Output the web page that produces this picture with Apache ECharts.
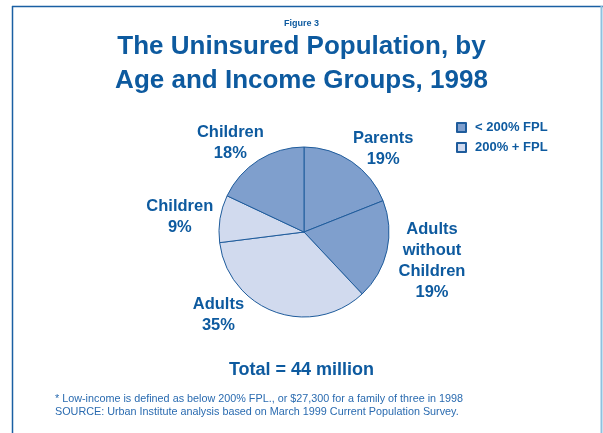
<!DOCTYPE html>
<html>
<head>
<meta charset="utf-8">
<script src="https://cdn.jsdelivr.net/npm/echarts@6/dist/echarts.min.js"></script>
<style>
html,body{margin:0;padding:0;background:#fff;}
#c{width:603px;height:433px;}
</style>
</head>
<body>
<div id="c"></div>
<script>
// ---- data ----
var ageGroups = ['Parents', 'Adults\nwithout\nChildren', 'Adults', 'Children', 'Children'];
var incomeGroups = ['< 200% FPL', '< 200% FPL', '200% + FPL', '200% + FPL', '< 200% FPL'];
var percents = [19, 19, 35, 9, 18];
var legendItems = ['< 200% FPL', '200% + FPL'];

// ---- styles ----
var BLUE = '#0d5a9f';
var groupColors = { '< 200% FPL': '#7f9fcd', '200% + FPL': '#d1daee' };
var labelNudge = [[-9, 2], [-6, 6], [-25, -14], [11, 1], [15, -2.5]];

var chart = echarts.init(document.getElementById('c'), null, { renderer: 'canvas' });

var pieData = percents.map(function (v, i) {
  return { name: incomeGroups[i], value: v, itemStyle: { color: groupColors[incomeGroups[i]] } };
});

chart.setOption({
  animation: false,
  backgroundColor: '#ffffff',
  title: [
    { text: 'Figure 3', left: 'center', top: 19, padding: 0,
      textStyle: { fontFamily: 'Liberation Sans, Arial', fontWeight: 'bold', fontSize: 9, lineHeight: 9, color: BLUE } },
    { text: 'The Uninsured Population, by\nAge and Income Groups, 1998', left: 'center', top: 30, padding: 0,
      textStyle: { fontFamily: 'Liberation Sans, Arial', fontWeight: 'bold', fontSize: 26, lineHeight: 34, color: BLUE } },
    { text: 'Total = 44 million', left: 'center', top: 361, padding: 0,
      textStyle: { fontFamily: 'Liberation Sans, Arial', fontWeight: 'bold', fontSize: 18, lineHeight: 18, color: BLUE } },
    { text: '* Low-income is defined as below 200% FPL., or $27,300 for a family of three in 1998\nSOURCE: Urban Institute analysis based on March 1999 Current Population Survey.',
      left: 55, top: 393, padding: 0,
      textStyle: { fontFamily: 'Liberation Sans, Arial', fontWeight: 'normal', fontSize: 10.8, lineHeight: 13, color: '#2a6bb0' } }
  ],
  legend: {
    data: legendItems,
    orient: 'vertical',
    left: 456, top: 121,
    padding: 0,
    icon: 'rect',
    itemWidth: 9, itemHeight: 9,
    itemGap: 7,
    selectedMode: false,
    textStyle: { fontFamily: 'Liberation Sans, Arial', fontWeight: 'bold', fontSize: 13, lineHeight: 13, color: BLUE, padding: [0, 0, 0, 4] }
  },
  graphic: [
    { type: 'line', shape: { x1: 12, y1: 6.5, x2: 603, y2: 6.5 }, style: { stroke: '#1a5fa3', lineWidth: 1.5 } },
    { type: 'line', shape: { x1: 12.5, y1: 6, x2: 12.5, y2: 433 }, style: { stroke: '#1a5fa3', lineWidth: 1.5 } },
    { type: 'line', shape: { x1: 601.5, y1: 6, x2: 601.5, y2: 433 }, style: { stroke: '#8fc1df', lineWidth: 2 } }
  ],
  series: [{
    type: 'pie',
    center: [304, 232],
    radius: 85,
    startAngle: 90,
    clockwise: true,
    avoidLabelOverlap: false,
    data: pieData,
    itemStyle: { borderColor: '#1f5c9c', borderWidth: 1 },
    emphasis: { disabled: true },
    labelLine: { show: false, length: 18, length2: 0 },
    label: {
      show: true,
      position: 'outside',
      distanceToLabelLine: 0,
      formatter: function (p) {
        return ageGroups[p.dataIndex].split('\n').map(function (s) { return '{a|' + s + '}'; }).join('\n') +
          '\n{a|' + percents[p.dataIndex] + '%}';
      },
      rich: {
        a: { fontFamily: 'Liberation Sans, Arial', fontWeight: 'bold', fontSize: 16.5, lineHeight: 21, color: BLUE, align: 'center' }
      }
    },
    labelLayout: function (params) {
      var n = labelNudge[params.dataIndex];
      return { dx: n[0], dy: n[1] };
    }
  }]
});
</script>
</body>
</html>
